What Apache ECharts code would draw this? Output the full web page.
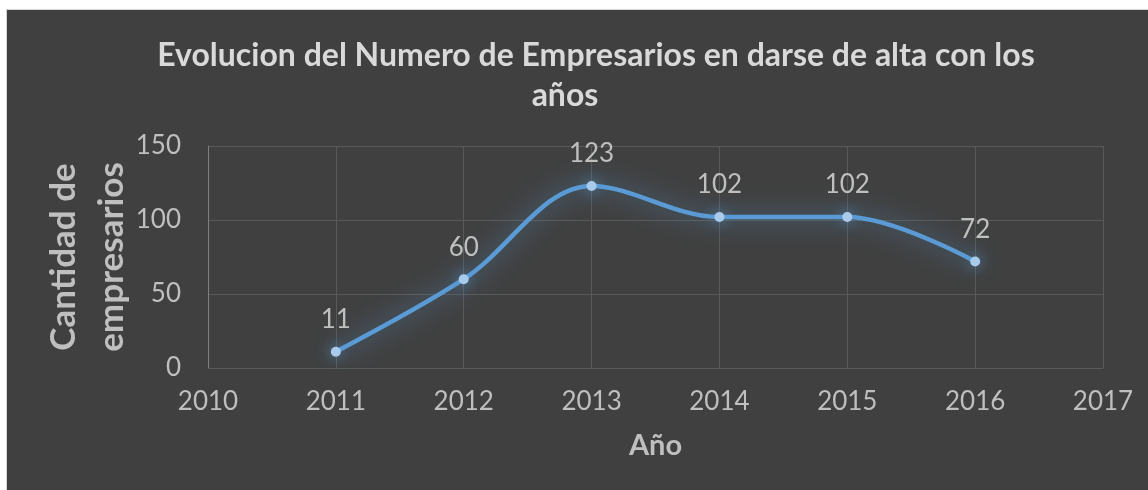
<!DOCTYPE html>
<html>
<head>
<meta charset="utf-8">
<script src="https://cdn.jsdelivr.net/npm/echarts@6/dist/echarts.min.js"></script>
<style>
  html, body { margin: 0; padding: 0; background: #fff; }
  #frame { position: absolute; left: 6px; top: 9px; border-left: 1px solid #d4d4d4; border-top: 1px solid #d4d4d4; }
  #chart { width: 1141px; height: 480px; }
</style>
</head>
<body>
<div id="frame"><div id="chart"></div></div>
<script>
const years = [2011, 2012, 2013, 2014, 2015, 2016]
const empresarios = [11, 60, 123, 102, 102, 72]
const xRange = [2010, 2017]
const yRange = [0, 150]

const titleLines = ['Evolucion del Numero de Empresarios en darse de alta con los', 'años']
const font = 'Lato, "Open Sans", sans-serif'
const labelColor = '#bfbfbf'
const gridColor = '#595959'

const titleStyle = { color: '#d9d9d9', fontFamily: font, fontWeight: 'bold', fontSize: 32 }

const chart = echarts.init(document.getElementById('chart'))
chart.setOption({
  backgroundColor: '#404040',
  animation: false,
  title: [
    { text: titleLines[0], left: 589, top: 30, textAlign: 'center', padding: 0, textStyle: titleStyle },
    { text: titleLines[1], left: 558, top: 70, textAlign: 'center', padding: 0, textStyle: titleStyle }
  ],
  grid: { left: 201, right: 45, top: 136, bottom: 122 },
  xAxis: {
    type: 'value',
    min: xRange[0], max: xRange[1], interval: 1,
    name: 'Año', nameLocation: 'middle', nameGap: 63, nameMoveOverlap: false,
    nameTextStyle: { color: labelColor, fontFamily: font, fontWeight: 'bold', fontSize: 29 },
    axisLine: { lineStyle: { color: gridColor, width: 1 } },
    axisTick: { show: false },
    axisLabel: { color: labelColor, fontFamily: font, fontSize: 26, margin: 21, formatter: v => String(v) },
    splitLine: { show: true, lineStyle: { color: gridColor, width: 1 } }
  },
  yAxis: {
    type: 'value',
    min: yRange[0], max: yRange[1], interval: 50,
    name: 'Cantidad de\nempresarios', nameLocation: 'middle', nameGap: 72, nameMoveOverlap: false,
    nameTextStyle: { color: labelColor, fontFamily: font, fontWeight: 'bold', fontSize: 35, lineHeight: 48 },
    axisLine: { show: true, lineStyle: { color: '#7f7f7f', width: 1 } },
    axisTick: { show: false },
    axisLabel: { color: labelColor, fontFamily: font, fontSize: 26, margin: 27 },
    splitLine: { show: true, lineStyle: { color: gridColor, width: 1 } }
  },
  series: [{
    type: 'line',
    data: years.map((y, i) => [y, empresarios[i]]),
    smooth: 0.35,
    symbol: 'circle',
    symbolSize: 10,
    itemStyle: { color: '#a9cbeb', borderWidth: 0, shadowColor: 'rgba(91,155,213,0.9)', shadowBlur: 14 },
    lineStyle: { color: '#5b9bd5', width: 4.5, shadowColor: 'rgba(91,155,213,0.85)', shadowBlur: 24 },
    label: { show: true, position: 'top', distance: 14, color: labelColor, fontFamily: font, fontSize: 26 }
  }]
})
</script>
</body>
</html>
